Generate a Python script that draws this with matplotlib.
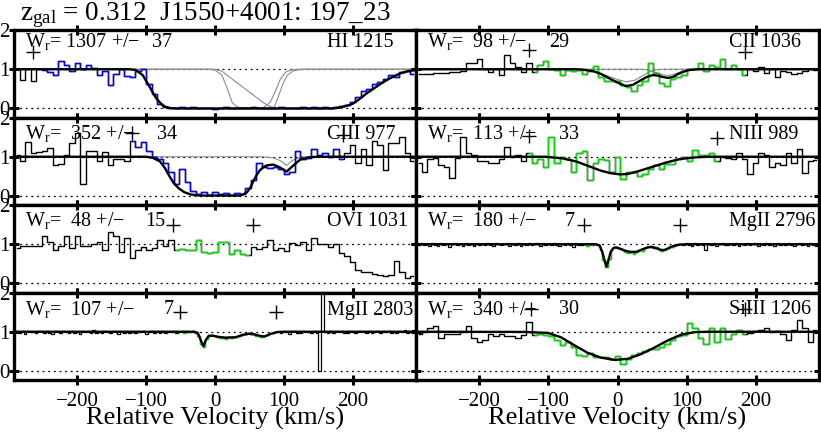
import numpy as np
import matplotlib
matplotlib.use("Agg")
import matplotlib.pyplot as plt

plt.rcParams["font.family"] = "Liberation Serif"
plt.rcParams["mathtext.fontset"] = "custom"
plt.rcParams["mathtext.rm"] = "Liberation Serif"
plt.rcParams["mathtext.it"] = "Liberation Serif:italic"

# COS spectra: 8 km/s bins starting at -288 km/s
COS_V0, COS_DV = -288, 8
# HIRES MgII spectra: 4 km/s bins starting at -292 km/s
HR_V0, HR_DV = -292, 4

hi_flux = [1.0, 0.72, 1.0, 0.7, 1.0, 0.98, 0.93, 0.85, 1.2, 1.12,
           0.95, 1.15, 1.0, 1.12, 1.02, 0.85, 0.95, 0.6, 0.88, 1.0,
           0.82, 0.8, 0.95, 1.0, 0.62, 0.38, 0.12, 0.04, 0.01,
           0.0, 0.03, 0.02, 0.05, 0.0, 0.01, 0.02, -0.01, 0.0, 0.04,
           0.01, 0.0, 0.02, 0.0, 0.03, 0.01, 0.02, 0.0, 0.01, 0.04,
           0.02, 0.0, 0.01, 0.03, 0.02, 0.05, 0.01, 0.03, 0.02,
           0.04, 0.06, 0.1, 0.16, 0.28, 0.45, 0.5, 0.62, 0.68, 0.76,
           0.85, 0.8, 0.93, 0.95, 0.88]
hi_model_v = [-292, -125, -115, -105, -95, -85, -75, -65, -55, 170, 180, 190,
              200, 210, 220, 230, 240, 250, 260, 270, 280, 292]
hi_model_f = [1.0, 1.0, 0.98, 0.85, 0.55, 0.25, 0.06, 0.01, 0.0, 0.0, 0.02, 0.06,
              0.12, 0.24, 0.38, 0.5, 0.62, 0.73, 0.82, 0.9, 0.95, 0.98]
hi_comp1_v = [-292, -10, 0, 10, 18, 25, 32, 40, 70, 80, 88, 95, 103, 112, 125, 292]
hi_comp1_f = [1.0, 1.0, 0.98, 0.85, 0.5, 0.15, 0.04, 0.02, 0.02, 0.15, 0.45,
              0.75, 0.93, 0.99, 1.0, 1.0]
hi_comp2_v = [-292, 0, 10, 25, 40, 55, 70, 80, 86, 92, 98, 105, 115, 130, 292]
hi_comp2_f = [1.0, 1.0, 0.95, 0.75, 0.55, 0.35, 0.15, 0.05, 0.03, 0.3, 0.6,
              0.85, 0.97, 1.0, 1.0]

ciii_flux = [1.05, 0.9, 1.38, 1.1, 1.12, 1.15, 1.22, 0.78, 0.82, 1.05,
             1.35, 1.6, 0.3, 1.15, 1.15, 0.88, 1.12, 0.78, 0.95, 0.95,
             0.9, 1.4, 1.25, 1.38, 1.15, 1.0, 0.95, 0.85, 0.6, 0.3,
             0.7, 0.35, 0.12, 0.05, 0.1, 0.02, 0.1, 0.05, 0.08, 0.02,
             0.08, 0.05, 0.2, 0.4, 0.85, 0.73, 0.72, 0.75, 0.7, 0.55,
             0.62, 1.15, 0.95, 0.98, 1.2, 1.05, 1.1, 1.0, 1.2, 0.95,
             1.1, 1.3, 0.85, 1.2, 0.8, 1.4, 1.3, 0.65, 1.35, 1.35,
             1.5, 1.1, 0.88]
ciii_model_v = [-292, -100, -90, -80, -73, -66, -60, -53, -45, -36, -22, 36, 41,
                46, 51, 55, 60, 65, 70, 75, 85, 94, 104, 114, 124, 138, 150, 292]
ciii_model_f = [1.0, 1.0, 0.97, 0.88, 0.72, 0.5, 0.33, 0.2, 0.1, 0.04, 0.01, 0.01,
                0.04, 0.09, 0.2, 0.35, 0.52, 0.65, 0.73, 0.78, 0.8, 0.73, 0.62,
                0.78, 0.93, 0.99, 1.0, 1.0]
ciii_comp_v = [-292, 70, 85, 95, 104, 112, 125, 292]
ciii_comp_f = [1.0, 1.0, 0.97, 0.9, 0.78, 0.9, 1.0, 1.0]

ovi_flux = [0.9, 0.95, 0.95, 0.96, 0.95, 1.2, 1.05, 0.85, 0.95, 1.2,
            0.9, 1.2, 0.95, 0.95, 1.0, 1.05, 0.85, 1.3, 1.2, 0.8,
            1.15, 0.65, 0.85, 0.92, 0.85, 0.9, 1.1, 0.95, 1.1, 0.85,
            0.88, 0.85, 0.85, 1.1, 0.8, 0.78, 0.8, 1.05, 1.05, 0.75,
            0.85, 0.75, 0.72, 0.92, 0.88, 0.92, 1.1, 0.85, 0.9, 0.82,
            1.02, 0.98, 1.05, 0.85, 1.15, 1.0, 1.0, 0.92, 1.0, 0.78,
            0.7, 0.55, 0.35, 0.3, 0.3, 0.25, 0.22, 0.18, 0.22, 0.58,
            0.3, 0.15, 0.2]

mg2803_flux = [0.98, 1.02, 0.97, 1.01, 0.95, 1.03, 0.99, 1.0, 0.96, 1.02,
               1.01, 0.97, 1.03, 0.98, 0.94, 1.02, 1.0, 0.97, 1.01, 0.99,
               0.96, 1.03, 0.98, 1.0, 0.95, 1.02, 0.99, 1.01, 0.97, 1.04,
               0.98, 1.0, 0.96, 1.02, 0.99, 0.97, 1.03, 1.0, 0.95, 1.01,
               0.98, 1.02, 0.97, 1.0, 0.96, 1.03, 0.99, 1.01, 0.94, 1.0,
               1.02, 0.97, 1.01, 0.98, 1.03, 0.96, 1.0, 0.99, 1.02, 0.97,
               1.0, 1.02, 0.98, 1.0, 0.99, 1.01, 0.97, 0.9, 0.7, 0.6,
               0.82, 0.9, 0.92, 0.88, 0.87, 0.84, 0.85, 0.82, 0.86, 0.84,
               0.87, 0.86, 0.9, 0.92, 0.95, 0.96, 0.95, 0.93, 0.9, 0.88,
               0.86, 0.88, 0.92, 0.96, 0.98, 1.0,
               1.01, 0.97, 1.02, 0.99, 0.95, 1.01, 1.03, 0.98, 0.96, 1.02,
               0.99, 1.0, 0.97, 1.02, 0.98, 0.0, 3.0,
               1.0, 0.98, 1.02, 0.97, 1.01, 0.99, 1.03, 0.98, 0.96, 1.01,
               1.0, 0.97, 1.02, 0.99, 1.01, 0.96, 1.03, 0.98, 1.0, 1.02,
               0.97, 1.01, 0.99, 1.03, 0.98, 1.0, 0.96, 1.02, 0.99, 1.04,
               0.97, 1.02, 1.05, 0.98]
mg2803_model_v = [-292, -30, -25, -21, -17, -13, -9, -4, 5, 15, 30, 40, 50, 58,
                  66, 72, 80, 90, 100, 292]
mg2803_model_f = [1.0, 1.0, 0.97, 0.8, 0.63, 0.8, 0.9, 0.9, 0.87, 0.85, 0.86,
                  0.92, 0.95, 0.93, 0.89, 0.88, 0.94, 0.99, 1.0, 1.0]

cii_flux = [0.88, 0.88, 0.88, 0.9, 0.9, 0.9, 0.92, 0.92, 0.95, 1.15,
            1.15, 1.27, 1.0, 0.92, 1.0, 0.85, 1.37, 1.15, 1.05, 0.92,
            1.15, 0.93, 1.1, 1.2, 1.0, 0.98, 0.85, 0.98, 0.95, 0.97,
            0.88, 0.95, 1.07, 0.8, 0.7, 0.7, 0.7, 0.6, 0.55, 0.45,
            0.6, 0.7, 1.15, 0.9, 0.65, 0.58, 0.75, 0.8, 0.85, 1.0,
            1.0, 1.15, 0.95, 1.1, 1.05, 1.25, 1.0, 1.1, 1.0, 0.85,
            1.0, 0.95, 1.05, 0.9, 1.0, 0.8, 0.95, 0.92, 0.88, 0.9,
            0.95, 1.0, 0.98]
cii_model_v = [-292, -60, -50, -35, -24, -10, 0, 12, 22, 32, 42, 51, 58, 66,
               73, 80, 88, 96, 104, 117, 292]
cii_model_f = [1.0, 1.0, 0.99, 0.95, 0.88, 0.75, 0.66, 0.57, 0.6, 0.7, 0.8,
               0.85, 0.84, 0.8, 0.78, 0.8, 0.88, 0.94, 0.98, 1.0, 1.0]
cii_comp1_v = [-292, -60, -30, -10, 0, 12, 25, 35, 45, 55, 65, 292]
cii_comp1_f = [1.0, 1.0, 0.93, 0.8, 0.74, 0.68, 0.72, 0.82, 0.92, 0.98, 1.0, 1.0]
cii_comp2_v = [-292, 35, 45, 55, 65, 73, 82, 92, 102, 115, 292]
cii_comp2_f = [1.0, 1.0, 0.98, 0.92, 0.86, 0.84, 0.87, 0.94, 0.98, 1.0, 1.0]

niii_flux = [0.85, 0.6, 0.95, 0.98, 0.8, 0.75, 0.45, 0.98, 1.5, 1.1,
             1.05, 0.9, 0.9, 0.85, 0.85, 0.95, 1.25, 1.0, 1.05, 0.9,
             1.1, 0.85, 0.95, 0.75, 1.5, 0.85, 1.0, 0.95, 0.62, 1.1,
             1.15, 0.4, 0.85, 0.95, 0.92, 0.6, 1.0, 0.43, 0.6, 0.6,
             0.5, 0.55, 0.7, 0.8, 0.68, 0.82, 0.82, 0.95, 1.0, 0.9,
             1.18, 1.05, 1.05, 1.1, 0.9, 1.0, 0.98, 0.95, 1.1, 0.95,
             0.55, 0.85, 1.1, 1.05, 0.75, 0.85, 0.8, 1.1, 0.85, 1.2,
             0.58, 0.9, 0.92]
niii_model_v = [-292, -105, -80, -60, -40, -25, -10, 4, 15, 30, 50, 70, 90,
                110, 130, 292]
niii_model_f = [1.0, 1.0, 0.96, 0.88, 0.75, 0.65, 0.58, 0.55, 0.56, 0.63, 0.74,
                0.85, 0.94, 0.98, 1.0, 1.0]

mg2796_flux = [1.0, 0.97, 1.02, 0.98, 1.01, 0.95, 1.03, 0.99, 0.96, 1.02,
               0.98, 1.01, 0.94, 1.0, 1.03, 0.97, 1.01, 0.96, 1.02, 0.99,
               1.0, 0.95, 1.03, 0.98, 1.01, 0.97, 1.04, 0.99, 0.96, 1.02,
               1.0, 0.97, 1.01, 1.03, 0.96, 1.0, 0.98, 1.02, 0.95, 1.01,
               0.99, 1.03, 0.97, 1.0, 1.02, 0.96, 1.04, 0.98, 1.0, 0.97,
               1.02, 0.99, 0.95, 1.01, 0.98, 1.03, 0.97, 0.94, 1.0, 0.97,
               0.98, 1.0, 0.95, 1.0, 0.97, 1.01, 0.98, 0.85, 0.6, 0.42,
               0.62, 0.88, 0.93, 0.9, 0.87, 0.85, 0.8, 0.78, 0.82, 0.76,
               0.8, 0.85, 0.83, 0.9, 0.93, 0.95, 0.9, 0.93, 0.88, 0.82,
               0.86, 0.9, 0.95, 0.93, 0.97, 1.0,
               1.01, 0.97, 1.02, 0.99, 0.96, 1.03, 0.98, 1.0, 0.97, 0.86,
               1.01, 0.99, 1.02, 0.96, 1.0, 1.03, 0.98, 0.97, 1.01, 0.99,
               1.04, 0.96, 1.0, 0.98, 1.02, 0.97, 1.01, 1.03, 0.96, 1.0,
               0.99, 1.02, 0.97, 1.01, 0.95, 1.03, 0.98, 1.0, 0.97, 1.02,
               0.99, 0.96, 1.01, 1.03, 0.97, 1.0, 0.95, 1.02, 0.98, 0.96, 1.01]
mg2796_model_v = [-292, -32, -26, -22, -19, -16, -13, -10, -6, -2, 5, 12, 20,
                  28, 36, 44, 50, 56, 62, 67, 72, 80, 90, 100, 292]
mg2796_model_f = [1.0, 1.0, 0.97, 0.8, 0.6, 0.43, 0.6, 0.8, 0.9, 0.92, 0.88,
                  0.83, 0.8, 0.81, 0.87, 0.92, 0.93, 0.9, 0.86, 0.85, 0.88,
                  0.95, 0.99, 1.0, 1.0]

siiii_flux = [0.95, 1.0, 1.1, 1.15, 0.85, 0.95, 0.93, 0.95, 1.0, 1.15,
              0.85, 0.75, 0.8, 0.95, 0.9, 0.95, 0.88, 0.88, 0.85, 0.92,
              1.25, 0.92, 0.95, 0.92, 0.9, 0.8, 0.65, 0.75, 0.6, 0.4,
              0.38, 0.45, 0.35, 0.35, 0.35, 0.3, 0.38, 0.18, 0.3, 0.4,
              0.45, 0.52, 0.55, 0.55, 0.62, 0.7, 0.8, 0.9, 0.92, 1.22,
              1.1, 0.85, 0.7, 1.1, 0.75, 1.1, 0.82, 0.95, 1.05, 0.95,
              0.98, 1.02, 1.05, 1.1, 1.0, 1.02, 0.95, 0.8, 1.05, 1.3,
              1.1, 0.75, 1.05]
siiii_model_v = [-292, -135, -101, -82, -63, -43, -24, -4, 15, 34, 54, 73, 93,
                 112, 131, 292]
siiii_model_f = [1.0, 0.995, 0.97, 0.86, 0.66, 0.46, 0.34, 0.28, 0.31, 0.43,
                 0.6, 0.78, 0.93, 0.99, 1.0, 1.0]

# panel labels, equivalent widths and integration windows
ions = ["HI 1215", "CIII 977", "OVI 1031", "MgII 2803",
        "CII 1036", "NIII 989", "MgII 2796", "SiIII 1206"]
wr_text = ["W$_{\\rm r}$= 1307 +/\u2212", "W$_{\\rm r}$=  352 +/\u2212",
           "W$_{\\rm r}$=  48 +/\u2212", "W$_{\\rm r}$=  107 +/\u2212",
           "W$_{\\rm r}$=  98 +/\u2212", "W$_{\\rm r}$=  113 +/\u2212",
           "W$_{\\rm r}$=  180 +/\u2212", "W$_{\\rm r}$=  340 +/\u2212"]
wr_err = ["37", "34", "15", "7", "29", "33", "7", "30"]
err_x = [138, 143, 131, 150, 133, 143, 149, 143]
windows = [(-252, 292), (-124, 186), (-60, 52), (-51, 89),
           (-126, 186), (-130, 146), (-49, 90), (-124, 186)]
plus_marks = [[(-265, 1.43)], [(-121, 1.6), (186, 1.55)], [(-61, 1.5), (55, 1.5)],
              [(-51, 1.5), (89, 1.5)], [(-128, 1.48), (185, 1.44)],
              [(-128, 1.52), (144, 1.47)], [(-49, 1.5), (90, 1.5)],
              [(-125, 1.57), (185, 1.57)]]

panels = [
    (hi_flux, COS_V0, COS_DV, "#0000ff", (hi_model_v, hi_model_f),
     [(hi_comp1_v, hi_comp1_f), (hi_comp2_v, hi_comp2_f)]),
    (ciii_flux, COS_V0, COS_DV, "#0000ff", (ciii_model_v, ciii_model_f),
     [(ciii_comp_v, ciii_comp_f)]),
    (ovi_flux, COS_V0, COS_DV, "#00dd00", None, []),
    (mg2803_flux, HR_V0, HR_DV, "#00dd00", (mg2803_model_v, mg2803_model_f), []),
    (cii_flux, COS_V0, COS_DV, "#00dd00", (cii_model_v, cii_model_f),
     [(cii_comp1_v, cii_comp1_f), (cii_comp2_v, cii_comp2_f)]),
    (niii_flux, COS_V0, COS_DV, "#00dd00", (niii_model_v, niii_model_f), []),
    (mg2796_flux, HR_V0, HR_DV, "#00dd00", (mg2796_model_v, mg2796_model_f), []),
    (siiii_flux, COS_V0, COS_DV, "#00dd00", (siiii_model_v, siiii_model_f), []),
]

W, H = 821, 434
fig = plt.figure(figsize=(W / 100, H / 100), dpi=100)

col_left = [14, 416]
col_width = [402, 403]
row_top = [30, 117.5, 205, 292.5]
row_h = 87.5
text_drop = [17, 21, 21, 22]

for k, (flux, v0, dv, col, model, comps) in enumerate(panels):
    c, r = k // 4, k % 4
    ax = fig.add_axes([col_left[c] / W, (H - row_top[r] - row_h) / H,
                       col_width[c] / W, row_h / H])
    flux = np.array(flux)
    vel = v0 + dv * np.arange(len(flux))

    ax.axhline(0, color="black", ls=(0, (1.5, 3)), lw=0.9, zorder=1)
    ax.axhline(1, color="black", ls=(0, (1.5, 3)), lw=0.9, zorder=1)
    for cv, cf in comps:
        ax.plot(cv, cf, color="#8c8c8c", lw=0.8, zorder=2)

    hr = dv < 5
    ax.step(vel, flux, where="mid", color="black", lw=0.9 if hr else 1.0, zorder=3)
    w0, w1 = windows[k]
    sel = (vel >= w0) & (vel <= w1)
    ax.step(vel[sel], flux[sel], where="mid", color=col, lw=0.9 if hr else 1.0, zorder=4)
    if model is not None:
        ax.plot(model[0], model[1], color="black", lw=1.7, zorder=5)

    for pv, py in plus_marks[k]:
        ax.plot(pv, py, "+", color="black", ms=10, mew=1.0, zorder=6)

    ax.set_xlim(-292, 292)
    ax.set_ylim(-0.23, 2.0)
    ax.set_xticks([-200, -100, 0, 100, 200])
    ax.set_yticks([0, 1, 2])
    ax.set_yticklabels(["0", "1", "2"])
    for s in ax.spines.values():
        s.set_linewidth(2.4)
    ax.tick_params(axis="both", direction="inout", length=7, width=2.2,
                   top=True, right=True, labelsize=15)
    ax.tick_params(axis="y", pad=0, labelleft=(c == 0))
    ax.tick_params(axis="x", pad=5, labelbottom=(r == 3))

    yb = 1 - text_drop[r] / row_h
    ax.text(11 / col_width[c], yb, wr_text[k], transform=ax.transAxes,
            fontsize=14.5, va="baseline", ha="left", zorder=7)
    ax.text(err_x[k] / col_width[c], yb, wr_err[k], transform=ax.transAxes,
            fontsize=14.5, va="baseline", ha="left", zorder=7)
    ax.text(313 / col_width[c], yb, ions[k], transform=ax.transAxes,
            fontsize=14.5, va="baseline", ha="left", zorder=7)

for c in range(2):
    fig.text((col_left[c] + col_width[c] / 2) / W, 1 - 418 / H,
             "Relative Velocity (km/s)", fontsize=19, ha="center", va="center")

fig.text(20 / W, 1 - 20 / H, "z$_{\\rm gal}$ = 0.312  J1550+4001: 197_23",
         fontsize=19.5, ha="left", va="baseline")

fig.savefig("out.png", dpi=100)
